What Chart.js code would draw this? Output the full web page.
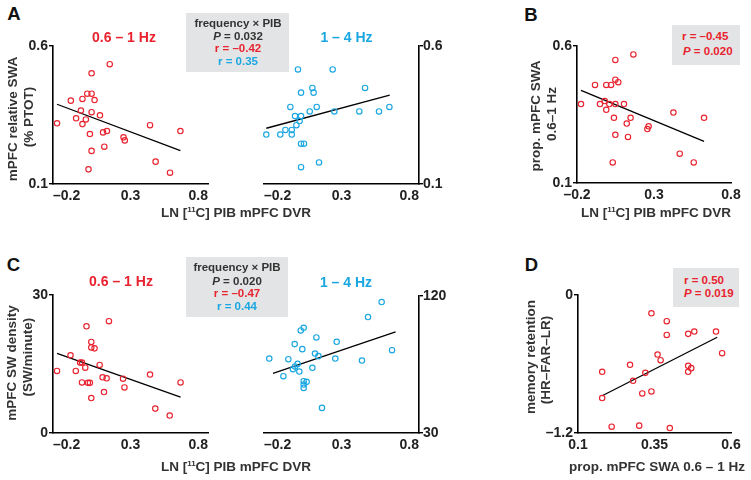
<!DOCTYPE html>
<html>
<head>
<meta charset="utf-8">
<script src="https://cdn.jsdelivr.net/npm/chart.js@4.4.1/dist/chart.umd.min.js"></script>
<style>
  html, body { margin: 0; padding: 0; background: #fff; }
  #root { position: relative; width: 751px; height: 480px; overflow: hidden; background: #fff;
          font-family: "Liberation Sans", Arial, Helvetica, sans-serif; font-weight: bold; }
  .t { position: absolute; white-space: nowrap; line-height: 1; transform: translate(-50%, -50%); }
  .r { transform: translate(-50%, -50%) rotate(-90deg); }
  .box { position: absolute; background: #e3e4e5; }
  canvas { position: absolute; }
</style>
</head>
<body>
<div id="root"></div>
<script>
// ---------------- DATA ----------------
// Panel A, 0.6-1 Hz: LN PIB mPFC DVR vs mPFC relative SWA
const aLowX = [-0.174,-0.085,-0.051,-0.020,-0.010,-0.010,0.012,0.021,0.049,0.049,0.068,0.049,0.038,0.049,0.029,0.103,0.166,0.123,0.148,0.131,0.255,0.263,0.426,0.622,0.462,0.555];
const aLowY = [0.320,0.402,0.338,0.366,0.408,0.317,0.334,0.427,0.427,0.501,0.404,0.360,0.281,0.220,0.153,0.349,0.534,0.287,0.292,0.235,0.269,0.258,0.313,0.292,0.181,0.141];
const aLowFitX = [-0.174, 0.622];
const aLowFitY = [0.389, 0.221];
// Panel A, 1-4 Hz
const aHighX = [-0.185,-0.095,-0.062,-0.021,-0.021,-0.030,0.000,0.009,0.030,0.039,0.019,0.039,0.112,0.120,0.095,0.140,0.039,0.058,0.039,0.155,0.243,0.254,0.415,0.452,0.542,0.609];
const aHighY = [0.279,0.279,0.296,0.296,0.279,0.379,0.346,0.313,0.328,0.346,0.515,0.431,0.448,0.431,0.363,0.379,0.246,0.246,0.161,0.178,0.515,0.363,0.363,0.448,0.363,0.379];
const aHighFitX = [-0.185, 0.611];
const aHighFitY = [0.302, 0.422];
// Panel B: LN PIB mPFC DVR vs prop. mPFC SWA 0.6-1 Hz
const bX = [-0.174,-0.083,-0.051,-0.020,-0.010,-0.010,0.010,0.021,0.049,0.068,0.049,0.049,0.040,0.049,0.032,0.105,0.166,0.123,0.148,0.131,0.257,0.265,0.426,0.625,0.467,0.558];
const bY = [0.388,0.458,0.388,0.399,0.367,0.458,0.388,0.458,0.477,0.468,0.549,0.388,0.338,0.276,0.175,0.388,0.569,0.317,0.338,0.268,0.297,0.307,0.357,0.338,0.207,0.175];
const bFitX = [-0.174, 0.625];
const bFitY = [0.438, 0.252];
// Panel C, 0.6-1 Hz: LN PIB mPFC DVR vs mPFC SW density (SW/minute)
const cLowX = [-0.174,-0.087,-0.053,-0.025,-0.013,0.008,-0.013,0.025,0.038,0.016,0.047,0.047,0.068,0.047,0.101,0.161,0.120,0.146,0.129,0.252,0.261,0.426,0.623,0.460,0.553];
const cLowY = [13.5,16.9,13.5,15.3,15.3,14.2,11.0,10.9,10.9,23.2,19.8,18.6,18.4,7.6,14.8,24.3,12.1,11.9,8.9,11.8,9.9,12.7,11.0,5.3,3.8];
const cLowFitX = [-0.174, 0.623];
const cLowFitY = [17.3, 7.8];
// Panel C, 1-4 Hz
const cHighX = [-0.166,-0.075,-0.043,-0.013,0.000,0.017,0.028,-0.002,0.047,0.037,0.056,0.056,0.075,0.056,0.056,0.112,0.129,0.151,0.138,0.174,0.260,0.269,0.432,0.471,0.559,0.626];
const cHighY = [78.9,67.3,78.5,71.9,73.7,75.4,70.4,88.4,85.1,97.4,99.1,64.0,63.6,61.8,59.6,72.8,82.2,80.5,92.8,46.5,78.9,89.9,77.6,106.2,116.0,84.4];
const cHighFitX = [-0.142, 0.649];
const cHighFitY = [69.1, 96.5];
// Panel D: prop. mPFC SWA 0.6-1 Hz vs memory retention (HR-FAR-LR)
const dX = [0.179,0.179,0.210,0.270,0.280,0.300,0.310,0.320,0.340,0.340,0.360,0.370,0.390,0.390,0.400,0.460,0.480,0.460,0.470,0.460,0.551,0.571];
const dY = [-0.668,-0.896,-1.145,-0.607,-0.746,-1.136,-0.856,-0.677,-0.839,-0.159,-0.518,-0.567,-0.228,-0.347,-1.157,-0.338,-0.318,-0.616,-0.636,-0.668,-0.318,-0.506];
const dFitX = [0.179, 0.555];
const dFitY = [-0.876, -0.367];
// Tick values and labels
const pibTicks = [-0.2, 0.3, 0.8];
const pibTickLabels = ["\u20130.2", "0.3", "0.8"];
const swaTicks = [0.1, 0.6];
const swaTickLabels = ["0.1", "0.6"];
const densLowTicks = [0, 30];
const densLowTickLabels = ["0", "30"];
const densHighTicks = [30, 120];
const densHighTickLabels = ["30", "120"];
const propTicks = [0.1, 0.35, 0.6];
const propTickLabels = ["0.1", "0.35", "0.6"];
const memTicks = [-1.2, 0];
const memTickLabels = ["\u20131.2", "0"];

// ---------------- STYLE ----------------
const RED = '#e8232f';
const BLUE = '#1aa7e1';
const INK = '#222';
const TXT = '#333';
const FONT = '"Liberation Sans", Arial, Helvetica, sans-serif';
const root = document.getElementById('root');

function pts(xs, ys) { return xs.map((x, i) => ({ x: x, y: ys[i] })); }

function panel(cfg) {
  const yRight = !!cfg.yRight;
  const ML = yRight ? 24 : 50, MR = yRight ? 50 : 24, MT = 14, MB = 32;
  const W = cfg.w + ML + MR, H = cfg.h + MT + MB;
  const c = document.createElement('canvas');
  c.width = W; c.height = H;
  c.style.width = W + 'px'; c.style.height = H + 'px';
  c.style.left = (cfg.l - ML) + 'px'; c.style.top = (cfg.t - MT) + 'px';
  root.appendChild(c);
  const tickFont = { family: FONT, size: 14, weight: 'bold' };
  new Chart(c, {
    type: 'scatter',
    data: {
      datasets: [
        { data: pts(cfg.xs, cfg.ys), pointStyle: 'circle', pointRadius: 2.7, pointBorderWidth: 1.15,
          pointBorderColor: cfg.color, pointBackgroundColor: 'rgba(255,255,255,0)', borderColor: cfg.color,
          showLine: false, clip: false },
        { data: pts(cfg.fx, cfg.fy), showLine: true, borderColor: '#000', borderWidth: 1.3,
          pointRadius: 0, clip: false }
      ]
    },
    options: {
      responsive: false, animation: false, devicePixelRatio: 1,
      events: [],
      plugins: { legend: { display: false }, tooltip: { enabled: false } },
      layout: { padding: { left: yRight ? ML : 0, right: yRight ? 0 : MR, top: MT, bottom: 0 } },
      scales: {
        x: {
          type: 'linear', position: 'bottom', min: cfg.xmin, max: cfg.xmax,
          afterBuildTicks: s => { s.ticks = cfg.xt.map(v => ({ value: v })); },
          afterFit: s => { s.height = MB; },
          ticks: { callback: (v, i) => cfg.xl[i], align: cfg.xAlign || 'center', font: tickFont, color: INK,
                   padding: 4, maxRotation: 0, autoSkip: false },
          grid: { display: true, drawOnChartArea: false, drawTicks: false, color: '#000' },
          border: { display: true, color: '#000', width: 1.6 }
        },
        y: {
          type: 'linear', position: yRight ? 'right' : 'left', min: cfg.ymin, max: cfg.ymax,
          afterBuildTicks: s => { s.ticks = cfg.yt.map(v => ({ value: v })); },
          afterFit: s => { s.width = yRight ? MR : ML; },
          ticks: { callback: (v, i) => cfg.yl[i], font: tickFont, color: INK, padding: yRight ? 0 : 1, autoSkip: false },
          grid: { display: true, drawOnChartArea: false, drawTicks: true, tickLength: 4, color: '#000', lineWidth: 1.4 },
          border: { display: true, color: '#000', width: 1.6 }
        }
      }
    }
  });
}

function text(html, x, y, size, color, rot, align) {
  const d = document.createElement('div');
  d.className = 't' + (rot ? ' r' : '');
  d.innerHTML = html;
  d.style.left = x + 'px'; d.style.top = y + 'px';
  d.style.fontSize = size + 'px'; d.style.color = color;
  if (align === 'left') { d.style.transform = 'translate(0, -50%)'; }
  root.appendChild(d);
}
function box(l, t, w, h) {
  const d = document.createElement('div');
  d.className = 'box';
  d.style.left = l + 'px'; d.style.top = t + 'px'; d.style.width = w + 'px'; d.style.height = h + 'px';
  root.appendChild(d);
}

// ---------------- PANELS ----------------
panel({ l: 53, t: 46, w: 155, h: 138, xs: aLowX, ys: aLowY, fx: aLowFitX, fy: aLowFitY, color: RED,
        xmin: -0.2, xmax: 0.8, ymin: 0.1, ymax: 0.6, xt: pibTicks, xl: pibTickLabels, yt: swaTicks, yl: swaTickLabels, xAlign: 'inner' });
panel({ l: 264, t: 46, w: 155, h: 138, xs: aHighX, ys: aHighY, fx: aHighFitX, fy: aHighFitY, color: BLUE, yRight: true,
        xmin: -0.2, xmax: 0.8, ymin: 0.1, ymax: 0.6, xt: pibTicks, xl: pibTickLabels, yt: swaTicks, yl: swaTickLabels, xAlign: 'inner' });
panel({ l: 577, t: 46, w: 154, h: 137, xs: bX, ys: bY, fx: bFitX, fy: bFitY, color: RED,
        xmin: -0.2, xmax: 0.8, ymin: 0.1, ymax: 0.6, xt: pibTicks, xl: pibTickLabels, yt: swaTicks, yl: swaTickLabels, xAlign: 'center' });
panel({ l: 53, t: 295, w: 155, h: 138, xs: cLowX, ys: cLowY, fx: cLowFitX, fy: cLowFitY, color: RED,
        xmin: -0.2, xmax: 0.8, ymin: 0, ymax: 30, xt: pibTicks, xl: pibTickLabels, yt: densLowTicks, yl: densLowTickLabels, xAlign: 'inner' });
panel({ l: 264, t: 296, w: 155, h: 137, xs: cHighX, ys: cHighY, fx: cHighFitX, fy: cHighFitY, color: BLUE, yRight: true,
        xmin: -0.2, xmax: 0.8, ymin: 30, ymax: 120, xt: pibTicks, xl: pibTickLabels, yt: densHighTicks, yl: densHighTickLabels, xAlign: 'inner' });
panel({ l: 578, t: 295, w: 153, h: 138, xs: dX, ys: dY, fx: dFitX, fy: dFitY, color: RED,
        xmin: 0.1, xmax: 0.6, ymin: -1.2, ymax: 0, xt: propTicks, xl: propTickLabels, yt: memTicks, yl: memTickLabels, xAlign: 'center' });

// ---------------- TEXT ----------------
// panel letters
text('A', 14, 14, 18.5, '#111');
text('B', 531, 15, 18.5, '#111');
text('C', 13.5, 265, 18.5, '#111');
text('D', 531.5, 265, 18.5, '#111');
// band titles
text('0.6 \u2013 1 Hz', 124, 37, 14, RED);
text('1 \u2013 4 Hz', 346.5, 37, 14, BLUE);
text('0.6 \u2013 1 Hz', 121, 281, 14, RED);
text('1 \u2013 4 Hz', 346, 282, 14, BLUE);
// stats boxes
box(186, 13, 103, 59);
text('frequency \u00d7 PIB', 238, 24, 11.5, TXT);
text('<i>P</i> = 0.032', 238, 36.7, 11.5, TXT);
text('r = \u20130.42', 238, 49.3, 11.5, RED);
text('r = 0.35', 238, 62, 11.5, BLUE);
box(186, 257, 102, 60);
text('frequency \u00d7 PIB', 237, 268.3, 11.5, TXT);
text('<i>P</i> = 0.020', 237, 281.5, 11.5, TXT);
text('r = \u20130.47', 237, 294, 11.5, RED);
text('r = 0.44', 237, 306.7, 11.5, BLUE);
box(672, 25, 68, 40);
text('r = \u20130.45', 682, 37.3, 11.5, RED, false, 'left');
text('<i>P</i> = 0.020', 683, 51.7, 11.5, RED, false, 'left');
box(673, 268, 66, 39);
text('r = 0.50', 684, 281, 11.5, RED, false, 'left');
text('<i>P</i> = 0.019', 684, 294, 11.5, RED, false, 'left');
// y-axis titles
text('mPFC relative SWA', 12.5, 119, 13.5, TXT, true);
text('(% PTOT)', 28.5, 117, 13.5, TXT, true);
text('mPFC SW density', 11.5, 363, 13.5, TXT, true);
text('(SW/minute)', 27.5, 357, 13.5, TXT, true);
text('prop. mPFC SWA', 536, 116, 13.5, TXT, true);
text('0.6\u20131 Hz', 551.5, 114, 13.5, TXT, true);
text('memory retention', 531, 357, 13.5, TXT, true);
text('(HR\u2013FAR\u2013LR)', 546, 360, 13.5, TXT, true);
// x-axis titles
const pibTitle = 'LN [<sup style="font-size:8px;vertical-align:5px">11</sup>C] PIB mPFC DVR';
text(pibTitle, 236, 213, 13.5, TXT);
text(pibTitle, 656, 213, 13.5, TXT);
text(pibTitle, 236, 467, 13.5, TXT);
text('prop. mPFC SWA 0.6 \u2013 1 Hz', 657, 467, 13.5, TXT);
</script>
</body>
</html>
